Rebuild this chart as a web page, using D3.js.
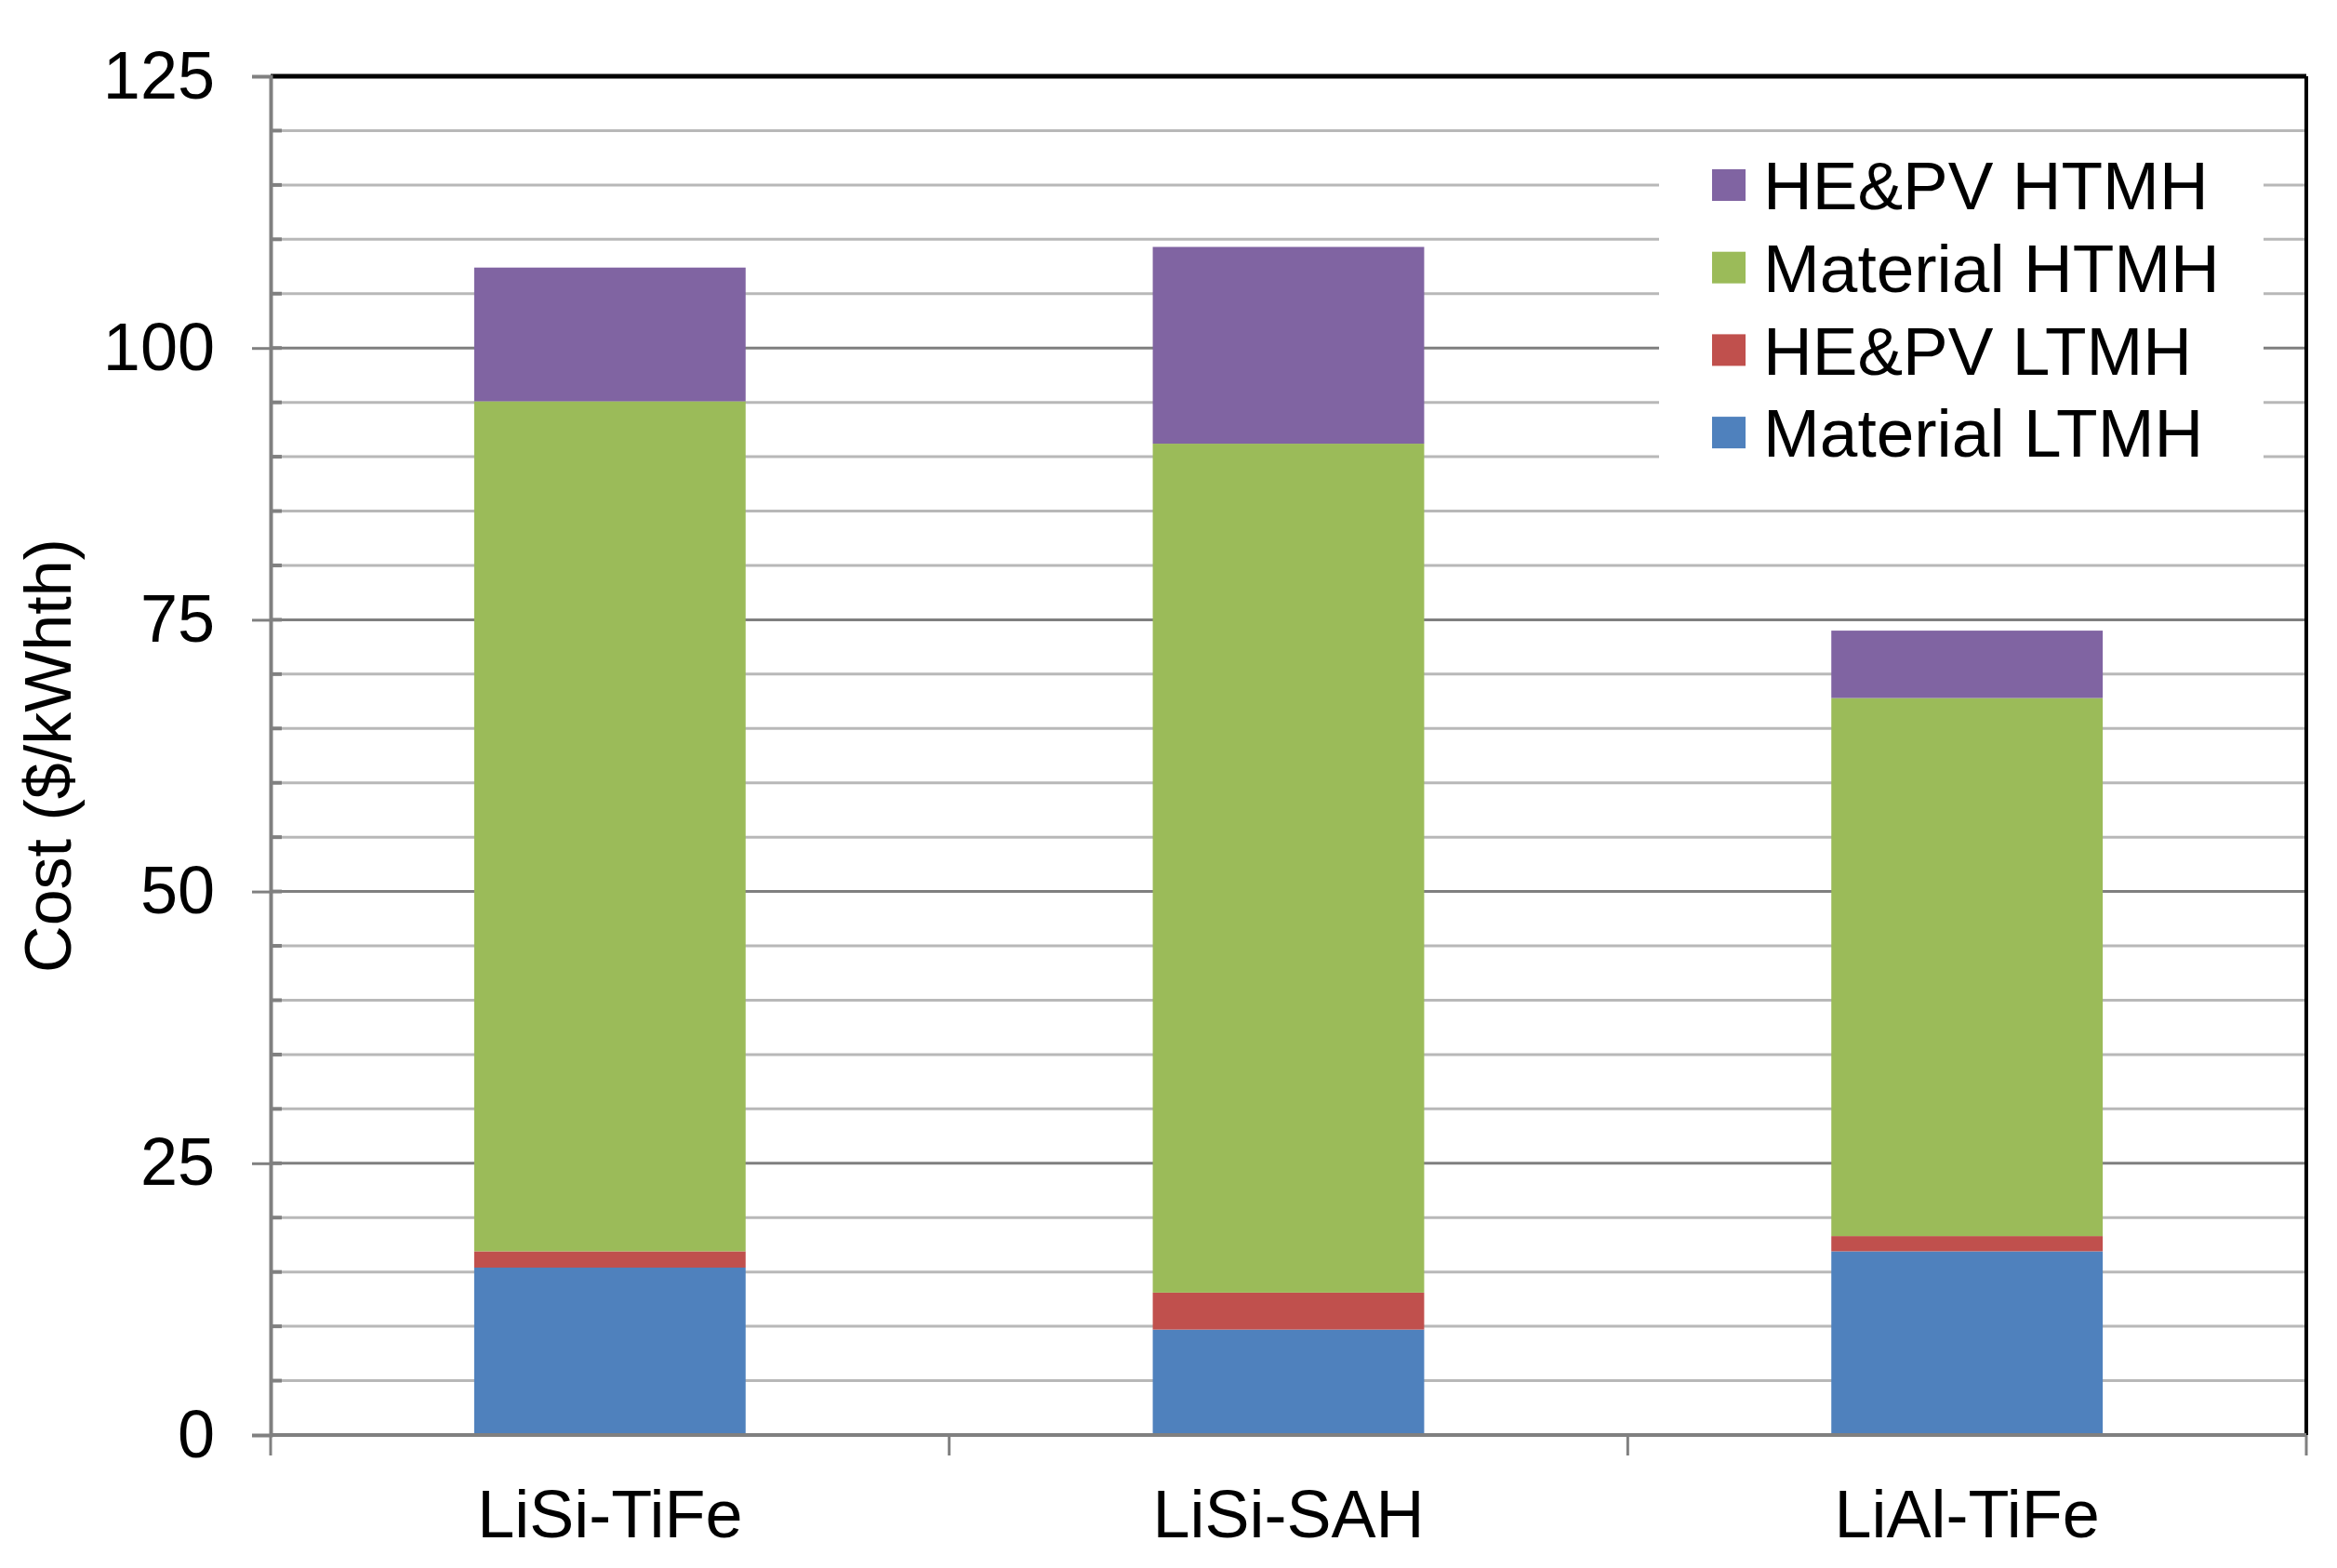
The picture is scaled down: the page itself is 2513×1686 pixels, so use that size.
<!DOCTYPE html>
<html>
<head>
<meta charset="utf-8">
<script src="https://cdn.jsdelivr.net/npm/d3@7/dist/d3.min.js"></script>
<style>
  body { margin: 0; background: #fff; }
  text { font-family: "Liberation Sans", Arial, sans-serif; fill: #000; }
</style>
</head>
<body>
<svg width="2513" height="1686"></svg>
<script>
// data
const categories = ['LiSi-TiFe', 'LiSi-SAH', 'LiAl-TiFe'];
const seriesNames = ['Material LTMH', 'HE&PV LTMH', 'Material HTMH', 'HE&PV HTMH'];
const materialLTMH = [15.4, 9.7, 16.9];
const hepvLTMH = [1.5, 3.4, 1.4];
const materialHTMH = [78.2, 78.1, 49.5];
const hepvHTMH = [12.3, 18.1, 6.2];
const yTicks = [0, 25, 50, 75, 100, 125];
const colors = ['#4F81BD', '#C0504D', '#9BBB59', '#8064A2'];

const seriesValues = [materialLTMH, hepvLTMH, materialHTMH, hepvHTMH];
const rows = categories.map((c, i) => {
  const r = { cat: c };
  seriesNames.forEach((s, j) => { r[s] = seriesValues[j][i]; });
  return r;
});

const svg = d3.select('svg');
const plotL = 291, plotR = 2480, plotT = 82, plotB = 1543;

const x = d3.scaleBand().domain(categories).range([plotL, plotR])
  .paddingInner(0.6).paddingOuter(0.3);
const y = d3.scaleLinear().domain([0, 125]).range([plotB, plotT]);

// grid lines every 5
for (let v = 5; v < 125; v += 5) {
  svg.append('line')
    .attr('x1', plotL).attr('x2', plotR)
    .attr('y1', y(v)).attr('y2', y(v))
    .attr('stroke', v % 25 === 0 ? '#7f7f7f' : '#b8b8b8')
    .attr('stroke-width', 3);
  // small inner tick
  svg.append('line')
    .attr('x1', plotL).attr('x2', plotL + 12)
    .attr('y1', y(v)).attr('y2', y(v))
    .attr('stroke', '#808080').attr('stroke-width', 4);
}

// stacked bars
const stack = d3.stack().keys(seriesNames)(rows);
svg.append('g').selectAll('g').data(stack).join('g')
  .attr('fill', (d, i) => colors[i])
  .selectAll('rect').data(d => d).join('rect')
  .attr('x', d => x(d.data.cat))
  .attr('width', x.bandwidth())
  .attr('y', d => y(d[1]))
  .attr('height', d => y(d[0]) - y(d[1]));

// legend box over grid
const lgX = 1784, lgY = 160;
svg.append('rect').attr('x', lgX).attr('y', lgY)
  .attr('width', 650).attr('height', 366).attr('fill', '#fff');
const legendOrder = [3, 2, 1, 0];
legendOrder.forEach((si, k) => {
  const cy = 199 + k * 88.7;
  svg.append('rect').attr('x', 1841).attr('y', cy - 17)
    .attr('width', 36).attr('height', 34).attr('fill', colors[si]);
  svg.append('text').attr('x', 1896).attr('y', cy)
    .attr('dy', '0.36em').attr('font-size', 73)
    .text(seriesNames[si]);
});

// frame: top and right borders black
svg.append('line').attr('x1', plotL).attr('x2', plotR).attr('y1', plotT).attr('y2', plotT)
  .attr('stroke', '#000').attr('stroke-width', 5);
svg.append('line').attr('x1', plotR).attr('x2', plotR).attr('y1', plotT).attr('y2', plotB)
  .attr('stroke', '#000').attr('stroke-width', 4);

// y axis
const yAxis = svg.append('g').attr('transform', `translate(${plotL},0)`)
  .call(d3.axisLeft(y).tickValues(yTicks).tickSize(20).tickPadding(40));
yAxis.select('.domain').attr('stroke', '#808080').attr('stroke-width', 4);
yAxis.selectAll('.tick line').attr('stroke', '#808080').attr('stroke-width', 3);
yAxis.selectAll('.tick text').attr('font-size', 72)
  .attr('font-family', '"Liberation Sans", Arial, sans-serif').attr('fill', '#000');

// x axis
const step = x.step();
const bandEdges = d3.range(categories.length + 1).map(i => plotL + i * step);
svg.append('line').attr('x1', plotL).attr('x2', plotR).attr('y1', plotB).attr('y2', plotB)
  .attr('stroke', '#808080').attr('stroke-width', 4);
svg.append('g').selectAll('line').data(bandEdges).join('line')
  .attr('x1', d => d).attr('x2', d => d)
  .attr('y1', plotB).attr('y2', plotB + 22)
  .attr('stroke', '#808080').attr('stroke-width', 3);
svg.append('g').selectAll('text').data(categories).join('text')
  .attr('x', d => x(d) + x.bandwidth() / 2)
  .attr('y', 1653)
  .attr('text-anchor', 'middle')
  .attr('font-size', 72)
  .text(d => d);

// y axis title
svg.append('text')
  .attr('transform', `translate(76,${(plotT + plotB) / 2}) rotate(-90)`)
  .attr('text-anchor', 'middle')
  .attr('font-size', 70)
  .text('Cost ($/kWhth)');
</script>
</body>
</html>
